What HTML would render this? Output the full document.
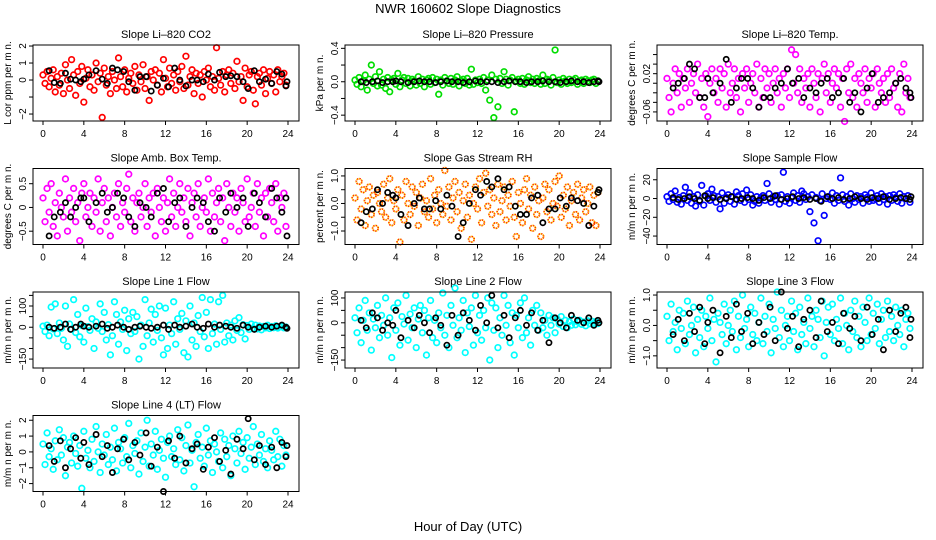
<!DOCTYPE html>
<html><head><meta charset="utf-8"><style>
html,body{margin:0;padding:0;background:#fff}
svg{display:block;font-family:"Liberation Sans",sans-serif}
</style></head><body>
<svg id="chart" width="936" height="540" viewBox="0 0 936 540">
<text x="468" y="13" text-anchor="middle" font-size="13">NWR  160602  Slope Diagnostics</text>
<text x="468" y="531" text-anchor="middle" font-size="13">Hour of Day (UTC)</text>
</svg>
<script>
const hours = [0,0.2,0.4,0.6,0.8,1,1.2,1.4,1.6,1.8,2,2.2,2.4,2.6,2.8,3,3.2,3.4,3.6,3.8,4,4.2,4.4,4.6,4.8,5,5.2,5.4,5.6,5.8,6,6.2,6.4,6.6,6.8,7,7.2,7.4,7.6,7.8,8,8.2,8.4,8.6,8.8,9,9.2,9.4,9.6,9.8,10,10.2,10.4,10.6,10.8,11,11.2,11.4,11.6,11.8,12,12.2,12.4,12.6,12.8,13,13.2,13.4,13.6,13.8,14,14.2,14.4,14.6,14.8,15,15.2,15.4,15.6,15.8,16,16.2,16.4,16.6,16.8,17,17.2,17.4,17.6,17.8,18,18.2,18.4,18.6,18.8,19,19.2,19.4,19.6,19.8,20,20.2,20.4,20.6,20.8,21,21.2,21.4,21.6,21.8,22,22.2,22.4,22.6,22.8,23,23.2,23.4,23.6,23.8];
const blkHours = [0.6,1.1,1.7,2.2,2.7,3.2,3.7,4.0,4.5,5.2,5.8,6.3,6.8,7.3,7.9,8.4,9.0,9.5,10.1,10.6,11.2,11.8,12.3,12.9,13.4,14.0,14.6,15.1,15.7,16.2,16.8,17.3,17.9,18.4,19.0,19.6,20.1,20.7,21.2,21.8,22.4,22.9,23.4,23.8,23.9];
const xTicks = [0,4,8,12,16,20,24];

const co2 = [0.3,-0.2,0.5,-0.4,0.1,0.6,-0.7,0.2,-0.3,0.4,-0.8,0.9,0.0,-0.5,1.2,0.3,-0.9,0.5,-0.2,0.8,-1.3,0.1,0.6,-0.4,0.3,-0.6,1.0,-0.1,0.4,-2.2,0.7,-0.3,0.2,-0.8,0.5,0.0,-0.5,1.3,0.2,-0.4,0.6,-0.7,0.1,0.4,-0.2,0.8,-0.6,0.3,-0.1,0.9,-0.5,0.2,-1.2,0.5,0.0,0.6,-0.3,0.4,-0.7,1.2,0.1,-0.4,0.7,-0.2,0.3,-0.6,0.5,-0.1,0.8,-0.5,1.4,-0.3,0.2,0.6,-0.8,0.4,-0.2,0.3,-1.0,0.5,0.0,0.7,-0.4,0.2,-0.6,1.9,0.1,-0.3,0.5,-0.7,0.3,0.6,-0.2,0.4,-0.5,1.1,-0.1,0.2,-1.2,0.7,-0.4,0.3,0.5,-0.6,-1.4,0.2,0.4,-0.3,0.6,-0.8,0.1,0.5,-0.2,0.3,-0.7,0.6,-0.1,0.2,0.4,-0.3];
const pressure = [0.02,-0.03,0.05,-0.06,0.01,0.08,-0.1,0.03,0.2,-0.02,0.06,-0.05,0.12,-0.04,0.03,-0.08,0.05,-0.12,0.02,0.04,-0.03,0.1,-0.06,0.02,0.05,-0.02,0.04,-0.05,0.03,0.01,-0.04,0.06,-0.02,0.03,-0.06,0.02,0.04,-0.03,0.05,-0.01,0.03,-0.15,0.02,-0.04,0.05,0.01,-0.02,0.04,-0.03,0.02,0.06,-0.05,0.01,0.03,-0.02,0.04,-0.04,0.15,-0.03,0.02,-0.01,0.03,-0.02,0.05,-0.1,0.02,-0.22,0.08,-0.43,0.03,-0.3,0.04,-0.02,0.12,0.03,-0.04,0.02,0.05,-0.36,0.01,0.03,-0.02,0.04,-0.03,0.02,0.06,-0.01,0.03,-0.02,0.04,0.01,-0.03,0.08,-0.02,0.03,0.02,-0.04,0.05,0.38,-0.01,0.02,-0.03,0.04,0.01,-0.02,0.03,-0.01,0.02,0.04,-0.03,0.01,0.02,-0.02,0.03,0.01,-0.01,0.02,0.03,-0.02,0.01];
const liTemp = [0.01,-0.03,-0.06,0.0,0.03,-0.02,0.02,-0.05,0.01,-0.01,0.03,-0.04,0.0,0.02,-0.02,0.04,-0.03,0.01,-0.05,0.02,-0.07,0.0,0.03,-0.02,0.01,-0.04,0.03,-0.01,0.02,-0.05,0.04,-0.02,0.0,0.03,-0.03,0.01,-0.06,0.02,-0.01,0.03,-0.04,0.0,0.02,-0.02,0.04,-0.05,0.01,-0.03,0.03,-0.01,0.02,-0.04,0.0,0.03,-0.02,0.01,-0.05,0.02,-0.01,0.03,-0.03,0.07,0.0,0.06,-0.02,0.03,-0.04,0.01,-0.01,0.02,-0.05,0.03,0.0,-0.03,0.02,-0.06,0.01,0.04,-0.02,0.02,-0.04,0.0,0.03,-0.01,0.02,-0.05,0.01,-0.08,0.03,-0.02,0.04,-0.03,0.01,-0.05,0.02,0.0,-0.02,0.03,-0.04,0.01,-0.01,0.02,-0.05,0.03,0.0,-0.02,0.01,-0.04,0.02,-0.03,0.03,-0.01,0.0,-0.05,0.02,-0.06,0.04,-0.02,0.01,-0.03];
const ambBox = [0.2,-0.3,0.4,-0.1,0.5,-0.4,0.1,-0.6,0.3,0.0,-0.2,0.6,-0.5,0.2,-0.1,0.4,-0.3,0.1,-0.7,0.3,0.5,-0.2,0.0,0.3,-0.4,0.2,-0.1,0.6,-0.5,0.1,0.4,-0.3,0.2,-0.6,0.0,0.3,-0.2,0.5,-0.4,0.1,-0.1,0.4,0.7,-0.3,0.2,-0.5,0.1,0.3,-0.2,0.0,0.5,-0.4,0.2,-0.1,0.3,-0.6,0.4,0.0,-0.3,0.2,-0.5,0.1,0.6,-0.2,0.3,-0.4,0.0,0.5,-0.1,0.2,-0.3,0.4,-0.6,0.1,0.3,-0.2,0.5,-0.4,0.0,0.2,-0.1,0.6,-0.5,0.3,-0.2,0.1,0.4,-0.3,0.2,-0.7,0.5,0.0,-0.4,0.3,-0.1,0.2,-0.5,0.4,0.1,-0.3,0.6,-0.2,0.0,0.3,-0.4,0.5,-0.1,0.2,-0.6,0.3,-0.2,0.4,0.1,-0.3,0.5,-0.5,0.2,0.0,0.3,-0.4];
const gasRH = [0.2,-0.6,0.8,-0.2,0.5,-0.8,0.1,0.6,-0.4,0.3,-0.9,0.4,0.0,-0.3,0.7,-0.5,0.2,0.9,-0.7,0.1,-0.2,0.5,-1.4,0.3,-0.6,0.8,0.0,-0.4,0.6,-0.1,0.4,-0.8,0.2,0.7,-0.3,0.1,-0.5,0.9,-0.2,0.3,-0.7,0.5,0.0,-0.4,1.2,-0.1,0.6,-0.6,0.2,0.8,-0.3,0.4,-0.9,0.1,0.7,-0.5,0.3,-1.3,0.0,0.6,-0.2,0.9,-0.7,0.4,1.1,-0.1,0.5,-0.4,0.2,-0.8,0.7,-0.3,0.1,0.6,-0.6,0.3,-0.1,0.8,-0.5,-1.2,0.4,0.0,-0.7,0.5,0.9,-0.2,0.3,-0.9,0.6,-0.4,0.1,-1.2,0.2,0.7,-0.3,0.5,-0.6,0.0,0.8,-0.1,1.0,-0.5,0.3,-0.2,0.6,-0.8,0.1,0.4,-0.4,0.7,-0.6,0.2,0.5,-0.3,0.0,0.6,-0.7,0.3,-0.8,0.4];
const sampleFlow = [2,-3,5,-1,8,-4,1,-6,3,12,-2,6,-5,2,-8,4,-3,14,-7,3,5,-2,10,3,-4,2,-11,6,-5,1,4,-3,2,-6,7,3,-2,5,-4,9,-1,4,-7,-3,2,-5,1,3,-2,16,5,-4,2,-1,3,-6,4,28,-3,2,-5,1,6,-2,3,-4,8,5,-1,2,-14,4,-26,1,-45,-2,5,-18,0,2,-1,6,-5,3,-2,22,4,-3,2,-7,5,0,-4,3,-1,2,-5,4,1,-3,6,-2,0,3,-4,5,-1,2,-6,3,-2,4,1,-3,5,-5,2,0,3,-4];
const line1 = [5,-20,10,-40,95,-8,110,-30,20,-5,-60,100,-90,15,-10,130,-25,60,-45,8,-70,90,3,-15,40,-100,25,-5,110,-20,70,-60,12,-130,-40,120,60,-80,25,-10,80,-110,40,-30,70,-20,50,-150,10,-90,130,-40,20,85,-70,60,-15,100,-50,-130,90,-100,10,-30,120,-80,40,-10,65,-120,30,-140,100,-60,20,-90,55,-20,140,-45,70,-100,130,-30,15,-80,120,-10,150,-70,20,-40,10,-60,30,-15,45,-25,12,-55,8,-10,15,-5,10,-8,6,-12,4,-3,9,-6,3,-2,7,-4,2,5,-3,1];
const line2 = [20,-40,60,-80,10,90,-30,40,-110,15,-20,70,-60,30,-10,100,-50,20,-140,60,-30,80,-90,25,-5,110,-70,35,-20,60,-100,15,70,-40,50,-130,20,90,-60,10,-80,40,-20,120,-50,30,-100,70,-10,140,-60,20,-30,90,-120,40,-15,60,-90,110,-40,30,-70,50,-20,100,-150,80,-30,60,-100,20,-50,110,-10,70,-80,40,-130,30,-20,80,-60,100,-40,20,-90,50,-10,70,-30,40,-20,10,-50,30,-10,20,-40,15,-5,25,-15,10,-20,5,-10,15,-8,4,10,-6,3,-12,8,-4,6,-2,5,-3];
const line3 = [0.3,-0.5,0.7,-0.2,0.1,-0.8,0.5,-0.1,0.4,-0.6,0.8,-0.3,0.0,0.6,-0.9,0.2,-0.4,0.5,-0.7,0.3,-0.1,0.9,-0.5,0.2,-1.2,0.4,0.1,-0.3,0.7,-0.6,0.0,0.5,-0.2,0.8,-0.8,0.3,-0.4,1.0,-0.1,0.2,-0.7,0.6,-0.3,0.4,-0.5,0.1,0.9,-0.6,0.3,-0.2,0.7,-0.9,0.2,-0.1,1.1,-0.4,0.5,-0.7,0.0,0.3,-0.5,0.8,-0.2,0.4,-0.8,0.6,-0.3,0.1,-0.6,0.9,-0.1,0.3,-0.7,0.5,0.2,-0.4,0.8,-1.0,0.1,0.6,-0.3,0.7,-0.5,0.2,-0.1,0.9,-0.6,0.4,0.0,-0.8,0.5,-0.2,0.8,-0.4,0.3,-0.7,0.6,0.1,-0.5,0.9,-0.3,0.4,-0.1,0.7,-0.6,0.2,0.5,-0.4,0.8,-0.2,0.3,-0.5,0.6,0.0,-0.3,0.5,-0.7,0.2,0.4,-0.1];
const line4 = [0.5,-0.8,1.2,-0.3,0.2,-1.1,0.7,-0.5,1.4,-0.2,0.9,-1.5,0.3,0.6,-0.7,1.0,-0.1,-0.9,0.4,-2.3,1.3,-0.4,0.1,-1.0,0.8,-0.6,1.6,0.0,-1.3,0.5,-0.2,1.1,-0.8,0.3,-0.5,1.5,-1.2,0.6,0.2,-0.7,0.9,-0.3,1.8,-1.0,0.4,-0.1,0.7,-1.4,1.2,-0.6,0.3,2.0,-0.9,0.5,-0.2,1.3,-1.1,0.1,0.8,-0.4,-1.6,0.6,1.0,-0.3,0.2,-0.8,1.4,-0.5,0.9,-1.2,0.4,1.7,-0.7,0.1,-2.2,0.6,1.1,-0.4,0.3,-0.9,1.5,-0.2,0.7,-1.3,0.5,0.0,-0.6,1.2,-1.0,0.8,-0.3,0.4,-1.5,1.0,0.2,-0.7,1.3,-0.1,0.6,-1.1,0.9,-0.4,0.3,1.6,-0.8,0.5,-0.2,1.1,-0.6,0.2,-1.0,0.7,0.1,-0.5,1.3,-0.3,0.8,-0.9,0.4,-0.2];

const co2Blk = [0.55,-0.15,-0.2,0.4,0.05,0.0,-0.1,0.05,0.3,0.55,0.05,-0.2,0.7,0.6,0.5,-0.1,-0.6,0.2,0.2,-0.65,-0.3,0.1,-0.4,0.7,0.0,-0.35,0.0,0.0,-0.1,0.35,0.0,0.45,0.2,0.25,0.2,-0.1,-0.5,0.55,-0.1,0.05,-0.2,0.5,0.35,-0.35,-0.1];
const pressureBlk = [0.0,-0.01,0.0,0.01,-0.01,0.0,0.0,0.01,0.0,-0.01,0.0,0.01,0.0,0.0,-0.01,0.0,0.01,0.0,0.0,-0.01,0.0,0.01,0.0,0.0,0.0,-0.01,0.0,0.01,0.0,0.0,-0.01,0.0,0.0,0.01,0.0,0.0,-0.01,0.0,0.01,0.0,0.0,-0.01,0.0,0.01,0.0];
const liTempBlk = [-0.01,0.0,0.01,0.04,0.03,-0.03,-0.03,0.01,-0.02,0.0,0.05,-0.04,-0.01,0.01,0.01,-0.01,-0.05,-0.03,-0.03,-0.01,0.0,0.03,0.0,0.01,-0.03,-0.01,-0.02,0.0,0.01,-0.03,-0.02,0.01,-0.04,-0.02,-0.06,-0.01,0.02,-0.04,-0.03,-0.02,0.0,0.01,-0.01,-0.02,-0.03];
const ambBoxBlk = [-0.6,-0.2,-0.1,0.1,-0.2,0.0,0.2,0.2,-0.3,0.1,0.3,-0.1,0.0,0.3,0.2,-0.2,-0.4,0.1,0.0,-0.2,0.3,0.4,-0.3,0.1,0.2,-0.4,0.0,0.2,0.1,-0.3,-0.5,0.2,-0.1,0.3,0.0,0.2,-0.4,0.3,0.1,-0.2,0.4,0.2,-0.1,0.2,-0.6];
const gasRHBlk = [-0.7,-0.3,-0.2,0.5,0.0,0.4,0.3,0.2,-0.4,-0.8,0.0,0.2,-0.2,-0.2,0.1,-0.2,0.3,-0.1,-1.2,-0.7,0.0,0.5,0.3,0.8,0.6,0.9,0.5,0.6,-0.1,-0.4,-0.4,0.2,0.3,-0.7,-0.2,-0.2,0.2,-0.1,0.2,0.1,0.0,-0.8,-0.1,0.4,0.5];
const sampleFlowBlk = [1,-1,0,2,0,-2,3,0,1,-1,0,2,-1,0,1,0,-2,1,0,3,-1,0,2,0,1,-1,0,-3,2,0,1,-1,0,2,0,-1,1,0,2,-1,0,1,0,-1,2];
const line1Blk = [0,-5,0,15,-10,0,15,5,0,5,15,-5,0,10,0,-10,0,5,0,-5,0,10,-10,10,0,5,15,0,-5,15,0,10,5,0,-5,10,0,-10,0,5,0,5,10,0,-5];
const line2Blk = [10,-20,40,20,-30,0,-10,50,-60,10,-20,30,0,-40,20,-10,-90,30,-50,40,10,-30,70,0,110,-20,30,-60,20,50,-10,40,-30,10,-80,20,0,-20,30,10,0,20,-10,10,0];
const line3Blk = [-0.3,0.2,-0.5,0.4,-0.2,0.6,-0.6,0.1,0.5,-0.9,0.3,-0.4,0.7,-0.2,0.4,-0.6,0.1,-0.3,0.6,-0.5,1.1,-0.1,0.3,-0.7,0.2,0.5,-0.4,0.8,-0.2,0.1,-0.6,0.4,-0.1,0.3,-0.5,0.6,-0.3,0.2,-0.8,0.5,-0.2,0.4,0.6,-0.4,0.2];
const line4Blk = [0.4,-0.6,0.7,-1.0,0.2,0.9,-0.4,0.6,-0.8,1.1,-0.3,0.4,-1.3,0.2,0.8,-0.5,0.6,-0.2,1.2,-0.9,0.3,-2.5,0.7,-0.4,1.0,-0.7,0.2,0.5,-1.1,0.3,0.9,-0.6,0.1,-1.4,0.8,0.2,2.1,-0.5,0.4,-0.8,0.3,-1.0,0.6,-0.3,0.4];

const co2Ticks = [-2,-1,0,1,2];             const co2Labels = ["\u22122","","0","1","2"];
const pressureTicks = [-0.4,-0.2,0,0.2,0.4]; const pressureLabels = ["\u22120.4","","0.0","","0.4"];
const liTempTicks = [-0.06,-0.04,-0.02,0,0.02,0.04,0.06]; const liTempLabels = ["\u22120.06","","","","0.02","",""];
const ambBoxTicks = [-0.5,0,0.5];           const ambBoxLabels = ["\u22120.5","0","0.5"];
const gasRHTicks = [-1,-0.5,0,0.5,1];       const gasRHLabels = ["\u22121.0","","0.0","","1.0"];
const sampleFlowTicks = [-40,-20,0,20];     const sampleFlowLabels = ["\u221240","\u221220","0","20"];
const line1Ticks = [-150,-100,-50,0,50,100,150]; const line1Labels = ["\u2212150","","","0","","100",""];
const line2Ticks = [-150,-100,-50,0,50,100]; const line2Labels = ["\u2212150","","","0","","100"];
const line3Ticks = [-1,-0.5,0,0.5,1];       const line3Labels = ["\u22121.0","","0.0","","1.0"];
const line4Ticks = [-2,-1,0,1,2];           const line4Labels = ["\u22122","\u22121","0","1","2"];

const NS = "http://www.w3.org/2000/svg";
const svg = document.getElementById("chart");
const colLeft = [33,345,657], rowTop = [45,168.5,292,415.5];
const BW = 266, BH = 76;

function mk(tag, attrs, parent){
  const e = document.createElementNS(NS, tag);
  for (const k in attrs) e.setAttribute(k, attrs[k]);
  (parent||svg).appendChild(e);
  return e;
}

function panel(key, title, ylabel, color, stroke2, col, row, ymin, ymax, ticks, labels, vals, blk){
  const L = colLeft[col], T = rowTop[row], B = T + BH;
  const g = mk("g", {});
  
  
  const xs = h => L + 10 + h * (245 / 24);
  const ys = v => B - (v - ymin) / (ymax - ymin) * BH;
  const t = mk("text", {x: L + BW/2, y: T - 7, "text-anchor": "middle", "font-size": 11}, g);
  t.textContent = title;
  
  
  const yl = mk("text", {x: 0, y: 0, "text-anchor": "middle", "font-size": 10, transform: `translate(${L-22},${T+BH/2}) rotate(-90)`}, g);
  yl.textContent = ylabel;
  
  
  const ya = mk("g", {}, g);
  
  
  mk("line", {x1: L, x2: L, y1: ys(ticks[0]), y2: ys(ticks[ticks.length-1]), stroke: "#000"}, ya);
  ticks.forEach((v, i) => {
    const y = ys(v);
    mk("line", {x1: L-4, x2: L, y1: y, y2: y, stroke: "#000"}, ya);
    if (labels[i]) {
      const lt = mk("text", {x: 0, y: 0, "text-anchor": "middle", "font-size": 10, transform: `translate(${L-7},${y}) rotate(-90)`}, ya);
      lt.textContent = labels[i];
      
      
    }
  });
  const xa = mk("g", {}, g);
  
  
  mk("line", {x1: xs(0), x2: xs(24), y1: B, y2: B, stroke: "#000"}, xa);
  xTicks.forEach(h => {
    mk("line", {x1: xs(h), x2: xs(h), y1: B, y2: B+4, stroke: "#000"}, xa);
    const lt = mk("text", {x: xs(h), y: B + 16, "text-anchor": "middle", "font-size": 10}, xa);
    lt.textContent = h;
    
    
  });
  const pg = mk("g", {fill: "none", stroke: color, "stroke-width": 1.7}, g);
  
  
  vals.forEach((v, i) => {
    const c = mk("circle", {cx: xs(hours[i]), cy: ys(v), r: 2.8}, pg);
    if (stroke2) c.setAttribute("stroke-dasharray", "1.5 1");
    
    
  });
  if (stroke2) {
    vals.forEach((v, i) => {
      const c = mk("circle", {cx: xs(hours[i]), cy: ys(v), r: 2.8, stroke: stroke2, "stroke-dasharray": "1 1.5", "stroke-dashoffset": 1.5}, pg);
      
      
    });
  }
  const bg = mk("g", {fill: "none", stroke: "#000", "stroke-width": 1.7}, g);
  
  
  blk.forEach((v, i) => {
    if (i >= blkHours.length) return;
    const c = mk("circle", {cx: xs(blkHours[i]), cy: ys(v), r: 2.6}, bg);
    
    
  });
  const box = mk("rect", {x: L, y: T, width: BW, height: BH, fill: "none", stroke: "#000"}, g);
  
  
}

panel("co2", "Slope Li\u2013820 CO2", "L cor ppm per m n.", "#ff0000", null, 0, 0, -2.41, 2.06, co2Ticks, co2Labels, co2, co2Blk);
panel("pressure", "Slope Li\u2013820 Pressure", "kPa per m n.", "#00dd00", null, 1, 0, -0.47, 0.44, pressureTicks, pressureLabels, pressure, pressureBlk);
panel("li-temp", "Slope Li\u2013820 Temp.", "degrees C per m n.", "#ff00ff", null, 2, 0, -0.079, 0.08, liTempTicks, liTempLabels, liTemp, liTempBlk);
panel("amb-box", "Slope Amb. Box Temp.", "degrees C per m n.", "#ff00ff", null, 0, 1, -0.78, 0.82, ambBoxTicks, ambBoxLabels, ambBox, ambBoxBlk);
panel("gas-rh", "Slope Gas Stream RH", "percent per m n.", "#ffcc00", "#ff2200", 1, 1, -1.49, 1.27, gasRHTicks, gasRHLabels, gasRH, gasRHBlk);
panel("sample-flow", "Slope Sample Flow", "m/m n per m n.", "#0000ff", null, 2, 1, -49, 32, sampleFlowTicks, sampleFlowLabels, sampleFlow, sampleFlowBlk);
panel("line1", "Slope Line 1 Flow", "m/m n per m n.", "#00ffff", null, 0, 2, -192, 166, line1Ticks, line1Labels, line1, line1Blk);
panel("line2", "Slope Line 2 Flow", "m/m n per m n.", "#00ffff", null, 1, 2, -182, 124, line2Ticks, line2Labels, line2, line2Blk);
panel("line3", "Slope Line 3 Flow", "m/m n per m n.", "#00ffff", null, 2, 2, -1.4, 1.1, line3Ticks, line3Labels, line3, line3Blk);
panel("line4", "Slope Line 4 (LT) Flow", "m/m n per m n.", "#00ffff", null, 0, 3, -2.5, 2.3, line4Ticks, line4Labels, line4, line4Blk);
</script>
</body></html>
